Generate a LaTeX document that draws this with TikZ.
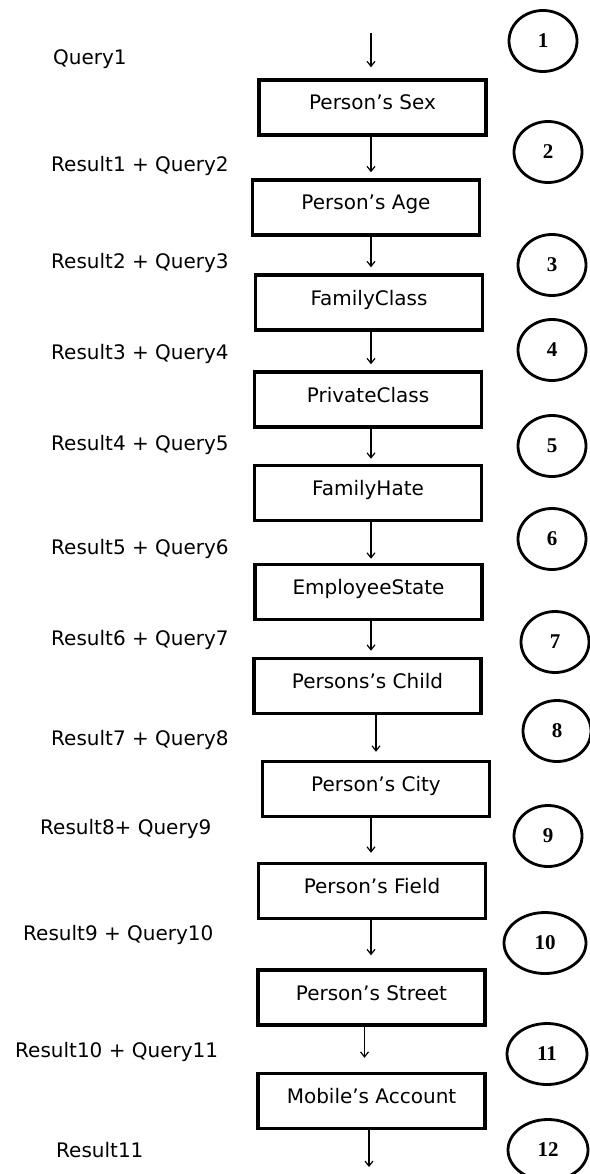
\documentclass[tikz,border=0pt]{standalone}
\usepackage{fontspec}
\setmainfont{DejaVu Sans}
\newfontfamily\numfont{Liberation Serif}
\usetikzlibrary{arrows.meta,shapes.geometric}

\begin{document}
\begin{tikzpicture}[x=1pt,y=-1pt,
  blk/.style={draw,line width=3.5pt,minimum width=227pt,minimum height=55pt,inner sep=2pt,text height=15pt,text depth=10pt,font=\fontsize{20}{24}\selectfont},
  num/.style={draw,ellipse,line width=2.8pt,minimum width=68pt,minimum height=61pt,inner sep=0pt,font=\numfont\bfseries\fontsize{21}{24}\selectfont},
  lbl/.style={anchor=base west,inner sep=0pt,font=\fontsize{20}{24}\selectfont},
  flow/.style={line width=1.2pt,shorten >=6pt,-{Straight Barb[length=5pt,width=8pt]}}]
\useasboundingbox (0,0) rectangle (589,1174);

\node[blk] (b1) at (372.5,107.5) {Person’s Sex};
\node[blk] (b2) at (366,207.5) {Person’s Age};
\node[blk] (b3) at (369,302.5) {FamilyClass};
\node[blk] (b4) at (368,399.5) {PrivateClass};
\node[blk] (b5) at (368,493) {FamilyHate};
\node[blk] (b6) at (368.5,592) {EmployeeState};
\node[blk] (b7) at (367.5,686) {Persons’s Child};
\node[blk] (b8) at (376,789) {Person’s City};
\node[blk] (b9) at (372,891) {Person’s Field};
\node[blk] (b10) at (371.5,997.5) {Person’s Street};
\node[blk] (b11) at (371.5,1101) {Mobile’s Account};

\node[num] (c1) at (543,41) {1};
\node[num] (c2) at (548,152) {2};
\node[num] (c3) at (552,265) {3};
\node[num] (c4) at (552,350) {4};
\node[num] (c5) at (552,446) {5};
\node[num] (c6) at (552,539) {6};
\node[num] (c7) at (555,642) {7};
\node[num] (c8) at (557,731) {8};
\node[num] (c9) at (548,836) {9};
\node[num,minimum width=82pt] (c10) at (545,943) {10};
\node[num,minimum width=80pt] (c11) at (547,1054) {11};
\node[num,minimum width=80pt] (c12) at (548,1150) {12};

\node[lbl] (q1) at (53,65) {Query1};
\node[lbl] (q2) at (51,172) {Result1 + Query2};
\node[lbl] (q3) at (51,269) {Result2 + Query3};
\node[lbl] (q4) at (51,359) {Result3 + Query4};
\node[lbl] (q5) at (51,450) {Result4 + Query5};
\node[lbl] (q6) at (51,554) {Result5 + Query6};
\node[lbl] (q7) at (51,645) {Result6 + Query7};
\node[lbl] (q8) at (51,745) {Result7 + Query8};
\node[lbl] (q9) at (40,834) {Result8+ Query9};
\node[lbl] (q10) at (23,940) {Result9 + Query10};
\node[lbl] (q11) at (15,1057) {Result10 + Query11};
\node[lbl] (q12) at (56,1157) {Result11};

\coordinate (in) at (371,33);
\coordinate (out) at (369,1167);
\draw[flow,shorten >=11pt] (in) -- (in |- b1.north);
\draw[flow] (b1.south -| in) -- (b2.north -| in);
\draw[flow] (b2.south -| in) -- (b3.north -| in);
\draw[flow] (b3.south -| in) -- (b4.north -| in);
\draw[flow,shorten >=5pt] (b4.south -| in) -- (b5.north -| in);
\draw[flow,shorten >=4pt] (b5.south -| in) -- (b6.north -| in);
\draw[flow] (b6.south -| in) -- (b7.north -| in);
\draw[flow,shorten >=8pt] (b7.south -| b8) -- (b8.north);
\draw[flow,shorten >=9pt] (b8.south -| in) -- (b9.north -| in);
\draw[flow,shorten >=13pt] (b9.south -| in) -- (b10.north -| in);
\draw[flow,shorten >=14pt] ([xshift=-7pt]b10.south) -- ([xshift=-7pt]b11.north);
\draw[flow,shorten >=0pt] (b11.south -| out) -- (out);
\end{tikzpicture}
\end{document}
